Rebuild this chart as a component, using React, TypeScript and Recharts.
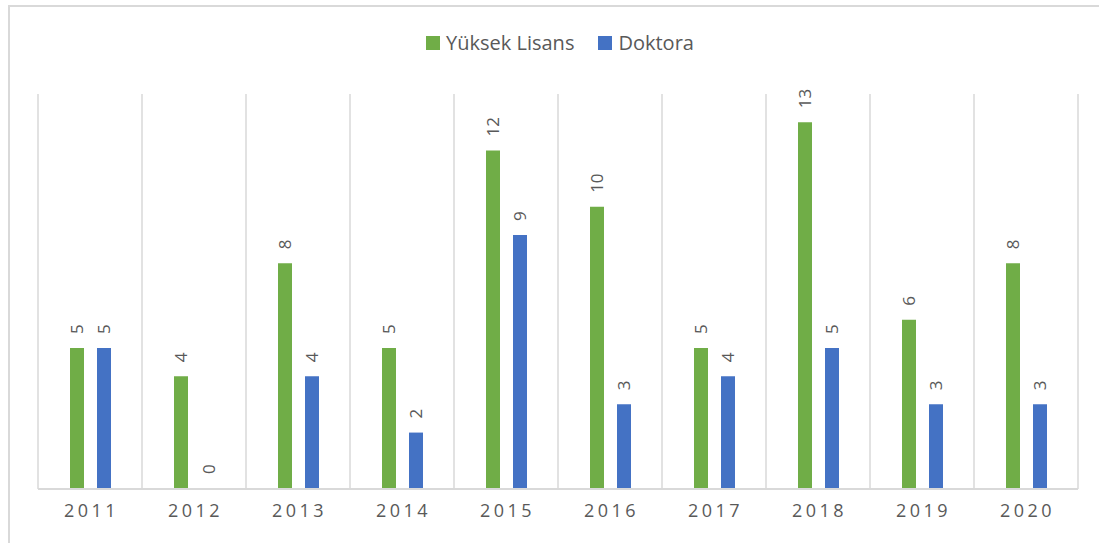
import React from "react";
import {
  BarChart,
  Bar,
  Cell,
  XAxis,
  YAxis,
  CartesianGrid,
  Legend,
  LabelList,
} from "recharts";

const years = ["2011", "2012", "2013", "2014", "2015", "2016", "2017", "2018", "2019", "2020"];
const yuksekLisans = [5, 4, 8, 5, 12, 10, 5, 13, 6, 8];
const doktora = [5, 0, 4, 2, 9, 3, 4, 5, 3, 3];
const seriesOrder = ["Yüksek Lisans", "Doktora"];

const data = years.map((year, i) => ({
  year,
  yl: yuksekLisans[i],
  dr: doktora[i],
}));

const GREEN = "#70AD47";
const BLUE = "#4472C4";
const TEXT = "#595959";
const GRID = "#d9d9d9";
const FONT = "'Open Sans', 'Noto Sans', sans-serif";

// rotated value label sitting above each bar
const RotatedLabel = (props: any) => {
  const { x, y, width, height, value } = props;
  const cx = Number(x) + Number(width) / 2;
  const top = Math.min(Number(y), Number(y) + Number(height || 0));
  const ty = top - 14;
  return (
    <text
      x={cx}
      y={ty}
      transform={`rotate(-90 ${cx} ${ty})`}
      textAnchor="start"
      dominantBaseline="central"
      fill={TEXT}
      fontSize={17}
      fontFamily={FONT}
    >
      {value}
    </text>
  );
};

const YearTick = (props: any) => {
  const { x, y, payload } = props;
  return (
    <text
      x={x + 1.5}
      y={y + 20}
      textAnchor="middle"
      fill={TEXT}
      fontSize={18}
      fontFamily={FONT}
      style={{ letterSpacing: 3.5 }}
    >
      {payload.value}
    </text>
  );
};

const LegendContent = (props: any) => {
  const items = [...(props.payload || [])].sort(
    (a: any, b: any) => seriesOrder.indexOf(a.value) - seriesOrder.indexOf(b.value)
  );
  return (
    <div style={{ display: "flex", justifyContent: "center", gap: 24, fontFamily: FONT, lineHeight: "26px" }}>
      {items.map((entry: any) => (
        <div key={entry.value} style={{ display: "flex", alignItems: "center", gap: 6 }}>
          <span style={{ width: 14, height: 14, background: entry.color, display: "inline-block" }} />
          <span style={{ color: TEXT, fontSize: 20 }}>{entry.value}</span>
        </div>
      ))}
    </div>
  );
};

export default function App() {
  return (
    <div style={{ position: "absolute", left: 0, top: 0, width: 1099, height: 543, overflow: "hidden", background: "#fff" }}>
      <div
        style={{
          position: "absolute",
          left: 8,
          top: 5,
          width: 1091,
          height: 538,
          borderTop: `2px solid ${GRID}`,
          borderLeft: `2px solid ${GRID}`,
          boxSizing: "border-box",
        }}
      />
      <div style={{ position: "absolute", left: 0, top: 0 }}>
        <BarChart
          width={1099}
          height={543}
          data={data}
          margin={{ top: 68, right: 21, left: 38, bottom: 24 }}
          barGap={13}
          barSize={14}
        >
          <CartesianGrid
            horizontal={false}
            stroke={GRID}
            strokeWidth={1.5}
            verticalCoordinatesGenerator={({ offset }: any) =>
              years.map((_, i) => offset.left + (i * offset.width) / years.length).concat(offset.left + offset.width)
            }
          />
          <XAxis
            dataKey="year"
            height={30}
            axisLine={{ stroke: GRID, strokeWidth: 2 }}
            tickLine={false}
            tick={<YearTick />}
            interval={0}
          />
          <YAxis hide domain={[0, 14]} />
          <Legend
            layout="vertical"
            align="center"
            verticalAlign="top"
            content={<LegendContent />}
            wrapperStyle={{ top: 30, left: 0, width: 1120 }}
          />
          <Bar dataKey="yl" name="Yüksek Lisans" fill={GREEN} isAnimationActive={false}>
            <LabelList dataKey="yl" content={<RotatedLabel />} />
          </Bar>
          {/* zero bars get a 1px transparent stub so their "0" label still shows */}
          <Bar
            dataKey="dr"
            name="Doktora"
            fill={BLUE}
            minPointSize={(v: number) => (v === 0 ? 1 : 0)}
            isAnimationActive={false}
          >
            {doktora.map((v, i) => (
              <Cell key={i} fill={v === 0 ? "transparent" : BLUE} />
            ))}
            <LabelList dataKey="dr" content={<RotatedLabel />} />
          </Bar>
        </BarChart>
      </div>
    </div>
  );
}
